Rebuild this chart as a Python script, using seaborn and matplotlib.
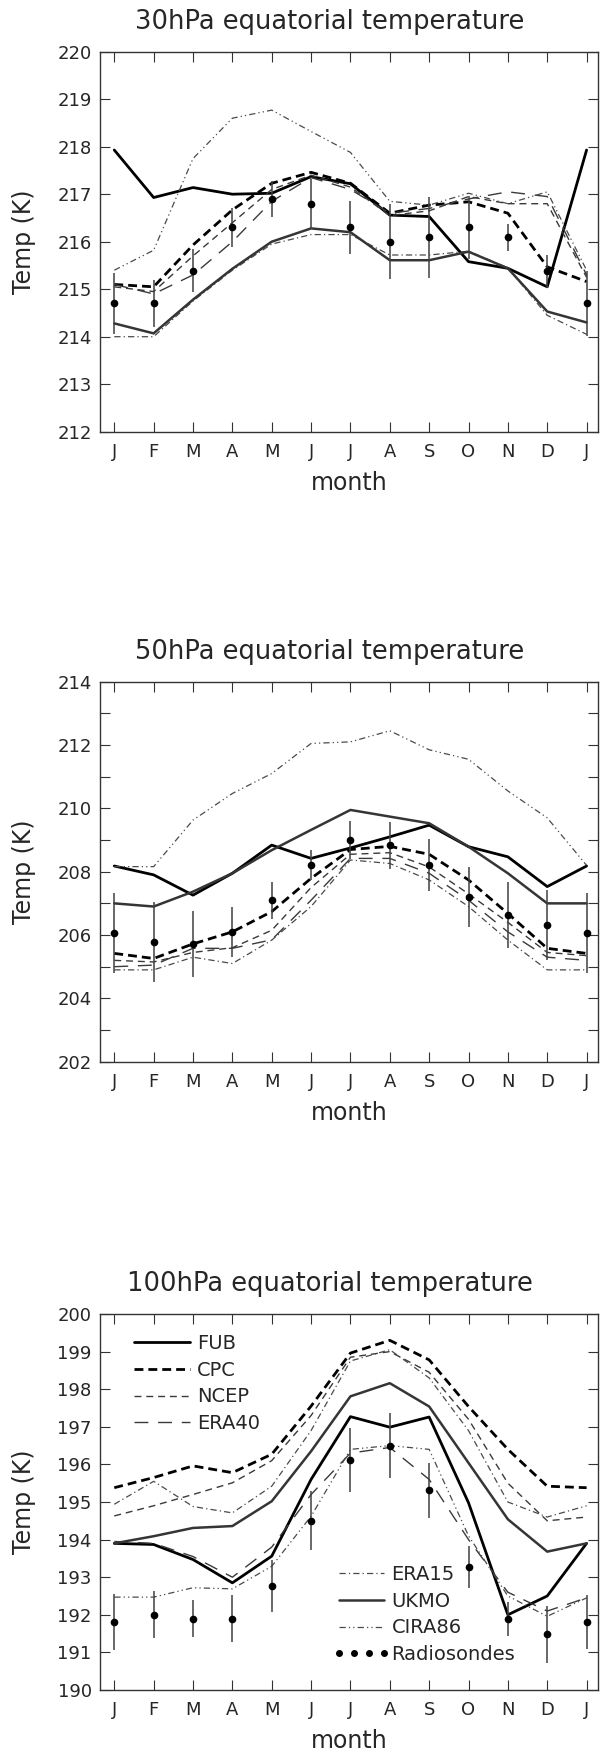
import numpy as np
import pandas as pd
import matplotlib
matplotlib.use("Agg")
import matplotlib.pyplot as plt
import seaborn as sns
from matplotlib.lines import Line2D

# ---------------- data ----------------
months = ["J", "F", "M", "A", "M", "J", "J", "A", "S", "O", "N", "D", "J"]
month_idx = list(range(13))
series_names = ["FUB", "CPC", "NCEP", "ERA40", "ERA15", "UKMO", "CIRA86"]

# 30 hPa
fub30 = [217.93, 216.93, 217.14, 217.0, 217.02, 217.37, 217.22, 216.56, 216.53, 215.58, 215.44, 215.05, 217.93]
cpc30 = [215.1, 215.05, 215.93, 216.67, 217.23, 217.46, 217.23, 216.6, 216.77, 216.84, 216.6, 215.47, 215.16]
ncep30 = [215.05, 214.95, 215.7, 216.4, 217.1, 217.4, 217.15, 216.55, 216.65, 216.95, 216.8, 216.8, 215.25]
era40_30 = [215.1, 214.9, 215.3, 216.0, 216.85, 217.35, 217.1, 216.6, 216.7, 216.9, 217.05, 216.95, 215.3]
era15_30 = [214.0, 214.0, 214.75, 215.4, 215.95, 216.15, 216.15, 215.72, 215.72, 215.8, 215.45, 214.45, 214.05]
ukmo30 = [214.28, 214.07, 214.78, 215.43, 216.0, 216.28, 216.2, 215.61, 215.61, 215.79, 215.44, 214.53, 214.3]
cira30 = [215.4, 215.82, 217.75, 218.6, 218.77, 218.32, 217.88, 216.85, 216.77, 217.02, 216.8, 217.05, 215.4]
rs30 = [214.7, 214.7, 215.39, 216.3, 216.89, 216.79, 216.3, 216.0, 216.09, 216.3, 216.09, 215.38, 214.7]
rs30_err = [0.65, 0.5, 0.45, 0.42, 0.38, 0.53, 0.56, 0.79, 0.86, 0.67, 0.28, 0.35, 0.68]

# 50 hPa
fub50 = [208.18, 207.9, 207.26, 207.95, 208.84, 208.42, 208.75, 209.1, 209.47, 208.79, 208.47, 207.53, 208.18]
cpc50 = [205.42, 205.26, 205.72, 206.1, 206.74, 207.79, 208.7, 208.8, 208.55, 207.74, 206.68, 205.58, 205.42]
ncep50 = [205.2, 205.15, 205.45, 205.6, 206.15, 207.5, 208.55, 208.6, 208.15, 207.3, 206.4, 205.45, 205.35]
era40_50 = [205.0, 205.05, 205.58, 205.58, 205.85, 207.1, 208.42, 208.42, 207.95, 207.1, 206.1, 205.3, 205.2]
era15_50 = [204.9, 204.9, 205.3, 205.1, 205.84, 206.9, 208.37, 208.26, 207.74, 206.9, 205.84, 204.9, 204.9]
ukmo50 = [207.0, 206.9, 207.37, 207.95, 208.68, 209.32, 209.95, 209.74, 209.53, 208.79, 207.95, 207.0, 207.0]
cira50 = [208.16, 208.16, 209.63, 210.47, 211.1, 212.05, 212.1, 212.45, 211.85, 211.55, 210.55, 209.7, 208.2]
rs50 = [206.07, 205.79, 205.72, 206.1, 207.1, 208.21, 209.0, 208.84, 208.21, 207.21, 206.63, 206.31, 206.07]
rs50_err = [1.26, 1.26, 1.05, 0.79, 0.58, 0.47, 0.6, 0.74, 0.82, 0.95, 1.05, 1.1, 1.26]

# 100 hPa
fub100 = [193.9, 193.87, 193.47, 192.85, 193.56, 195.6, 197.27, 196.99, 197.26, 194.98, 192.0, 192.5, 193.9]
cpc100 = [195.38, 195.65, 195.96, 195.78, 196.27, 197.55, 198.96, 199.3, 198.78, 197.54, 196.4, 195.42, 195.38]
ncep100 = [194.63, 194.9, 195.2, 195.51, 196.1, 197.3, 198.85, 199.0, 198.45, 197.2, 195.5, 194.5, 194.6]
era40_100 = [193.95, 193.9, 193.55, 193.0, 193.8, 195.2, 196.3, 196.45, 195.6, 194.0, 192.6, 192.1, 192.45]
era15_100 = [194.94, 195.55, 194.88, 194.71, 195.42, 196.9, 198.75, 199.05, 198.3, 196.9, 195.0, 194.6, 194.9]
ukmo100 = [193.9, 194.09, 194.31, 194.36, 195.02, 196.35, 197.81, 198.16, 197.54, 196.04, 194.54, 193.68, 193.9]
cira100 = [192.47, 192.47, 192.72, 192.69, 193.29, 194.62, 196.4, 196.5, 196.4, 194.1, 192.5, 191.96, 192.45]
rs100 = [191.8, 192.0, 191.9, 191.9, 192.77, 194.5, 196.12, 196.5, 195.31, 193.27, 191.88, 191.48, 191.8]
rs100_err = [0.74, 0.62, 0.5, 0.62, 0.7, 0.78, 0.86, 0.86, 0.73, 0.55, 0.45, 0.75, 0.72]

panels = [
    dict(title="30hPa equatorial temperature", ylim=(212, 220),
         yticks=list(range(212, 221)), yminor=[],
         lines=[fub30, cpc30, ncep30, era40_30, era15_30, ukmo30, cira30],
         rs=rs30, rs_err=rs30_err, top=51.7, bottom=431.7),
    dict(title="50hPa equatorial temperature", ylim=(202, 214),
         yticks=list(range(202, 215, 2)), yminor=list(range(203, 214, 2)),
         lines=[fub50, cpc50, ncep50, era40_50, era15_50, ukmo50, cira50],
         rs=rs50, rs_err=rs50_err, top=681.7, bottom=1061.7),
    dict(title="100hPa equatorial temperature", ylim=(190, 200),
         yticks=list(range(190, 201)), yminor=[],
         lines=[fub100, cpc100, ncep100, era40_100, era15_100, ukmo100, cira100],
         rs=rs100, rs_err=rs100_err, top=1314.0, bottom=1690.0),
]

# ---------------- styles ----------------
styles = {
    "FUB": dict(color="black", linewidth=2.0, linestyle="-"),
    "CPC": dict(color="black", linewidth=2.0, linestyle=(0, (3.2, 1.8))),
    "NCEP": dict(color="#3a3a3a", linewidth=1.0, linestyle=(0, (5, 3.5))),
    "ERA40": dict(color="#3a3a3a", linewidth=1.0, linestyle=(0, (10, 7))),
    "ERA15": dict(color="#4a4a4a", linewidth=0.9, linestyle=(0, (5, 2.5, 1, 2.5))),
    "UKMO": dict(color="#353535", linewidth=1.8, linestyle="-"),
    "CIRA86": dict(color="#4a4a4a", linewidth=0.9, linestyle=(0, (5, 2.5, 1, 2.5, 1, 2.5))),
}

sns.set_theme(style="ticks")
plt.rcParams["font.family"] = ["DejaVu Sans"]

W, H = 600, 1753
fig = plt.figure(figsize=(W / 100, H / 100), dpi=100)

for p in panels:
    top, bottom = p["top"], p["bottom"]
    ax = fig.add_axes([100 / W, 1 - bottom / H, 498 / W, (bottom - top) / H])
    for name, vals in zip(series_names, p["lines"]):
        sns.lineplot(x=month_idx, y=vals, ax=ax, legend=False, sort=False,
                     errorbar=None, **styles[name])
    ax.errorbar(month_idx, p["rs"], yerr=p["rs_err"], fmt="o", color="black",
                ms=4.5, ecolor="#404040", elinewidth=1.1, capsize=0, zorder=5)

    ax.set_xlim(-0.363, 12.29)
    ax.set_ylim(*p["ylim"])
    ax.set_xticks(month_idx)
    ax.set_xticklabels(months)
    ax.set_yticks(p["yticks"])
    if p["yminor"]:
        ax.set_yticks(p["yminor"], minor=True)
    ax.set_xlabel("")
    ax.set_ylabel("")
    ax.tick_params(axis="both", which="both", direction="in", length=7, width=0.8,
                   top=True, right=True, color="#333333")
    ax.tick_params(axis="x", labelsize=13, pad=8)
    ax.tick_params(axis="y", labelsize=13, pad=6)
    for s in ax.spines.values():
        s.set_linewidth(1.0)
        s.set_color("#333333")
        s.set_visible(True)

    fig.text(330 / W, 1 - (top - 30) / H, p["title"], ha="center", va="center",
             fontsize=18.5)
    fig.text(349 / W, 1 - (bottom + 51) / H, "month", ha="center", va="center",
             fontsize=17)
    fig.text(24 / W, 1 - (top + bottom) / 2 / H, "Temp (K)", ha="center",
             va="center", rotation=90, fontsize=17)

    if p["title"].startswith("100"):
        h1 = [Line2D([], [], **styles[n]) for n in ["FUB", "CPC", "NCEP", "ERA40"]]
        leg1 = ax.legend(h1, ["FUB", "CPC", "NCEP", "ERA40"], loc="upper left",
                         bbox_to_anchor=(0.068, 0.947), frameon=False, fontsize=14,
                         handlelength=2.9, handletextpad=0.35, labelspacing=0.4,
                         borderpad=0, borderaxespad=0)
        ax.add_artist(leg1)
        h2 = [Line2D([], [], **styles[n]) for n in ["ERA15", "UKMO", "CIRA86"]]
        h2.append(Line2D([], [], linestyle="none", marker="o", color="black", ms=4))
        ax.legend(h2, ["ERA15", "UKMO", "CIRA86", "Radiosondes"], loc="upper left",
                  bbox_to_anchor=(0.468, 0.333), frameon=False, fontsize=14,
                  handlelength=2.9, handletextpad=0.1, labelspacing=0.4,
                  borderpad=0, borderaxespad=0, numpoints=4)

fig.savefig("out.png", dpi=100)
